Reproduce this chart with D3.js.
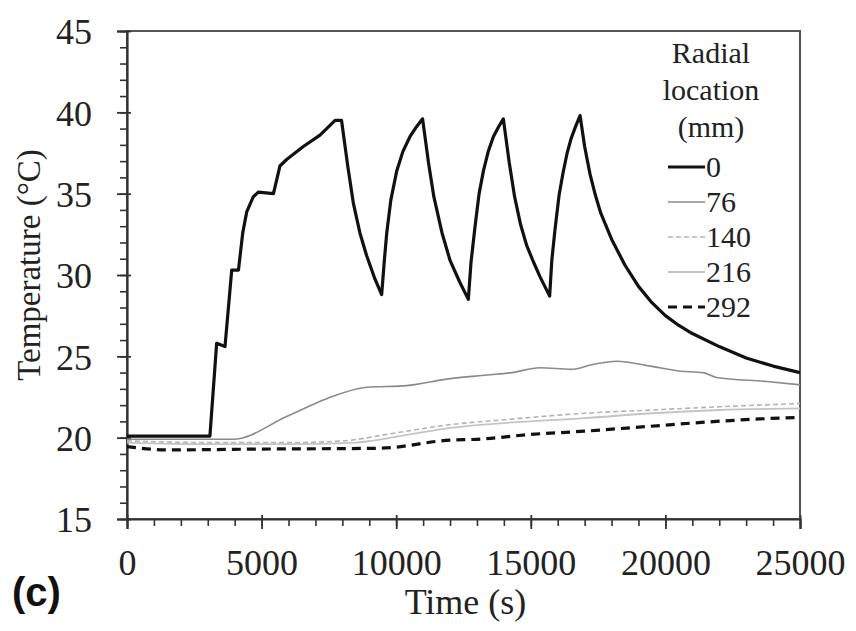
<!DOCTYPE html>
<html>
<head>
<meta charset="utf-8">
<script src="https://cdn.jsdelivr.net/npm/d3@7"></script>
<style>
  body { margin: 0; background: #fff; }
  svg { font-family: "Liberation Serif", "Times New Roman", serif; }
</style>
</head>
<body>
<div id="chart"></div>
<script>
// series: [time (s), temperature (°C)]
var r0 = [
  [0, 20.1], [3080, 20.1], [3330, 25.8], [3640, 25.6], [3890, 30.3], [4140, 30.3],
  [4300, 32.6], [4450, 33.9], [4690, 34.8], [4880, 35.1], [5440, 35.0], [5680, 36.7], [5930, 37.1],
  [6550, 37.9], [7170, 38.6], [7730, 39.5], [7970, 39.5],
  [8200, 36.7], [8410, 34.4], [8650, 32.6], [8900, 31.2], [9200, 29.8], [9460, 28.8],
  [9560, 30.9], [9650, 32.6], [9800, 34.6], [10020, 36.4], [10250, 37.6], [10510, 38.5], [10750, 39.1],
  [10980, 39.6],
  [11200, 36.9], [11400, 34.8], [11700, 32.6], [12000, 30.9], [12350, 29.6], [12680, 28.5],
  [12780, 30.8], [12930, 33.0], [13080, 35.0], [13240, 36.4], [13420, 37.6], [13610, 38.5], [13800, 39.1],
  [13980, 39.6],
  [14200, 36.9], [14400, 34.8], [14620, 33.1], [14850, 31.8], [15100, 30.8], [15340, 29.9], [15700, 28.7],
  [15780, 30.9], [15900, 32.8], [16050, 34.9], [16200, 36.3], [16350, 37.5], [16500, 38.4], [16680, 39.2],
  [16830, 39.8],
  [17000, 37.9], [17200, 36.2], [17400, 34.9], [17600, 33.8], [18000, 32.2], [18500, 30.6],
  [19000, 29.3], [19500, 28.3], [20000, 27.5], [20500, 26.9], [21000, 26.4], [22000, 25.6],
  [23000, 24.9], [24000, 24.4], [25000, 24.0]
];
var r76 = [
  [0, 19.9], [3940, 19.9], [5930, 21.3], [7420, 22.4], [8900, 23.1], [10390, 23.2],
  [11880, 23.6], [13360, 23.85], [14300, 24.0], [15340, 24.3], [16500, 24.2], [17300, 24.5],
  [18200, 24.7], [19430, 24.4], [20500, 24.1], [21400, 24.0], [21900, 23.7], [23780, 23.45],
  [25000, 23.25]
];
var r140 = [
  [0, 19.8], [3000, 19.7], [6000, 19.7], [8000, 19.8], [10000, 20.3], [12000, 20.8],
  [14000, 21.1], [17000, 21.5], [19500, 21.7], [22000, 21.9], [25000, 22.1]
];
var r216 = [
  [0, 19.7], [3000, 19.6], [6000, 19.6], [8500, 19.7], [10500, 20.2], [12000, 20.6],
  [14000, 20.9], [17000, 21.2], [19500, 21.5], [22000, 21.7], [25000, 21.8]
];
var r292 = [
  [0, 19.45], [1500, 19.25], [5000, 19.3], [9400, 19.35], [12000, 19.85], [13000, 19.9],
  [15000, 20.2], [17000, 20.4], [19430, 20.7], [21900, 21.0], [23500, 21.15], [25000, 21.25]
];

var legendTitle = ["Radial", "location", "(mm)"];
var legendNames = ["0", "76", "140", "216", "292"];

var xTicks = [0, 5000, 10000, 15000, 20000, 25000];
var yTicks = [15, 20, 25, 30, 35, 40, 45];

var series = [
  { name: "0", data: r0, color: "#111", width: 3.2, dash: null, curve: d3.curveLinear },
  { name: "76", data: r76, color: "#8a8a8a", width: 1.6, dash: null, curve: d3.curveMonotoneX },
  { name: "140", data: r140, color: "#b4b4b4", width: 1.6, dash: "5,3", curve: d3.curveMonotoneX },
  { name: "216", data: r216, color: "#c4c4c4", width: 1.8, dash: null, curve: d3.curveMonotoneX },
  { name: "292", data: r292, color: "#111", width: 3.2, dash: "9,6", curve: d3.curveMonotoneX }
];

var W = 856, H = 631;
var margin = { top: 31, right: 56, bottom: 112, left: 127 };
var width = W - margin.left - margin.right,
    height = H - margin.top - margin.bottom;

var svg = d3.select("#chart").append("svg")
    .attr("width", W)
    .attr("height", H);

var g = svg.append("g")
    .attr("transform", "translate(" + margin.left + "," + margin.top + ")");

var x = d3.scaleLinear().domain([0, 25000]).range([0, width]);
var y = d3.scaleLinear().domain([15, 45]).range([height, 0]);

// frame
g.append("rect")
    .attr("width", width)
    .attr("height", height)
    .attr("fill", "none")
    .attr("stroke", "#555")
    .attr("stroke-width", 2);

// minor ticks
g.append("g")
    .attr("transform", "translate(0," + height + ")")
    .call(d3.axisBottom(x).tickValues(d3.range(0, 25001, 1000)).tickSize(7).tickFormat(""))
    .call(function (a) { a.select(".domain").remove(); })
    .selectAll("line").attr("stroke", "#333").attr("stroke-width", 1.6);

g.append("g")
    .call(d3.axisLeft(y).tickValues(d3.range(15, 46, 1)).tickSize(7).tickFormat(""))
    .call(function (a) { a.select(".domain").remove(); })
    .selectAll("line").attr("stroke", "#333").attr("stroke-width", 1.6);

// major ticks + labels
var xAxis = g.append("g")
    .attr("transform", "translate(0," + height + ")")
    .call(d3.axisBottom(x).tickValues(xTicks).tickSize(10).tickPadding(0).tickFormat(d3.format("d")));
xAxis.select(".domain").attr("stroke", "#333").attr("stroke-width", 2.2);
xAxis.selectAll(".tick line").attr("y1", -4).attr("stroke", "#333").attr("stroke-width", 1.8);
xAxis.selectAll("text")
    .attr("y", 56).attr("dy", 0)
    .attr("fill", "#222")
    .style("font-size", "36px")
    .style("font-family", "Liberation Serif");

var yAxis = g.append("g")
    .call(d3.axisLeft(y).tickValues(yTicks).tickSize(10).tickPadding(25));
yAxis.select(".domain").attr("stroke", "#333").attr("stroke-width", 2.2);
yAxis.selectAll(".tick line").attr("x1", 4).attr("stroke", "#333").attr("stroke-width", 1.8);
yAxis.selectAll("text")
    .attr("dy", "0.36em")
    .attr("fill", "#222")
    .style("font-size", "36px")
    .style("font-family", "Liberation Serif");

// lines, lighter ones first so black sits on top
[3, 2, 1, 4, 0].forEach(function (i) {
    var s = series[i];
    var line = d3.line()
        .curve(s.curve)
        .x(function (d) { return x(d[0]); })
        .y(function (d) { return y(d[1]); });
    g.append("path")
        .datum(s.data)
        .attr("d", line)
        .attr("fill", "none")
        .attr("stroke", s.color)
        .attr("stroke-width", s.width)
        .attr("stroke-linejoin", "round")
        .attr("stroke-dasharray", s.dash);
});

// axis titles
svg.append("text")
    .attr("x", margin.left + width / 2 + 2)
    .attr("y", 614)
    .attr("text-anchor", "middle")
    .attr("fill", "#222")
    .style("font-size", "36px")
    .text("Time (s)");

svg.append("text")
    .attr("transform", "translate(40,265) rotate(-90)")
    .attr("text-anchor", "middle")
    .attr("fill", "#222")
    .style("font-size", "33px")
    .text("Temperature (°C)");

svg.append("text")
    .attr("x", 12)
    .attr("y", 606)
    .attr("fill", "#111")
    .style("font-family", "Liberation Sans, Arial, sans-serif")
    .style("font-weight", "bold")
    .style("font-size", "40px")
    .text("(c)");

// legend
var legend = svg.append("g");
legend.selectAll("text.title")
    .data(legendTitle)
    .enter().append("text")
    .attr("class", "title")
    .attr("x", 711)
    .attr("y", function (d, i) { return 63 + i * 37; })
    .attr("text-anchor", "middle")
    .attr("fill", "#222")
    .style("font-size", "30px")
    .text(function (d) { return d; });

var items = legend.selectAll("g.item")
    .data(legendNames)
    .enter().append("g")
    .attr("class", "item")
    .attr("transform", function (d, i) { return "translate(0," + (177 + i * 35) + ")"; });

items.append("line")
    .attr("x1", 668).attr("x2", 705)
    .attr("y1", -10).attr("y2", -10)
    .attr("stroke", function (d, i) { return series[i].color; })
    .attr("stroke-width", function (d, i) { return series[i].width; })
    .attr("stroke-dasharray", function (d, i) { return series[i].dash; });

items.append("text")
    .attr("x", 706)
    .attr("y", 0)
    .attr("fill", "#222")
    .style("font-size", "30px")
    .text(function (d) { return d; });
</script>
</body>
</html>
